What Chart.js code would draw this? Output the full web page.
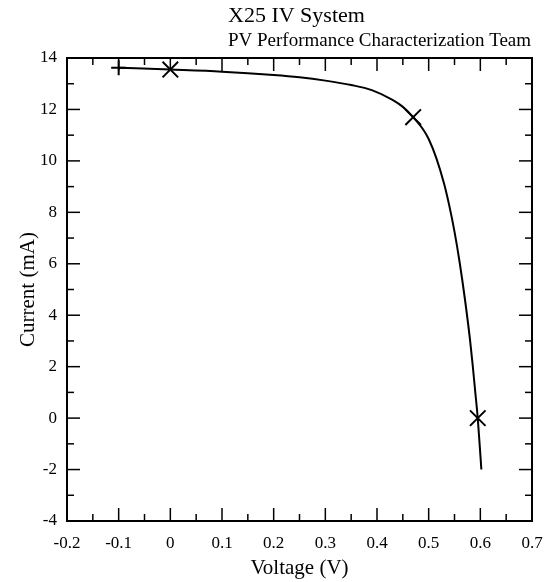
<!DOCTYPE html>
<html>
<head>
<meta charset="utf-8">
<script src="https://cdn.jsdelivr.net/npm/chart.js@4.4.0/dist/chart.umd.min.js"></script>
<style>
  html, body { margin: 0; padding: 0; background: #fff; }
  #wrap { position: relative; width: 546px; height: 582px; }
</style>
</head>
<body>
<div id="wrap"><canvas id="c" width="546" height="582"></canvas></div>
<script>
// ---- data ----
const voltage = [-0.1, 0, 0.1, 0.2, 0.25, 0.3, 0.35, 0.39, 0.43, 0.45, 0.47, 0.49, 0.5, 0.515, 0.53, 0.54, 0.55, 0.56, 0.57, 0.58, 0.585, 0.59, 0.595, 0.602];
const current = [13.62, 13.55, 13.47, 13.34, 13.25, 13.12, 12.95, 12.75, 12.37, 12.1, 11.7, 11.2, 10.85, 10.1, 9.1, 8.25, 7.25, 6.05, 4.65, 3.05, 2.1, 1.05, 0, -2.0];
const markerV = [0, 0.47, 0.595];
const markerI = [13.55, 11.7, 0];
const startV = [-0.1];
const startI = [13.62];
const xTickLabels = ['-0.2', '-0.1', '0', '0.1', '0.2', '0.3', '0.4', '0.5', '0.6', '0.7'];
const yTickLabels = ['-4', '-2', '0', '2', '4', '6', '8', '10', '12', '14'];
const titleText = 'X25 IV System';
const subtitleText = 'PV Performance Characterization Team';
const xTitle = 'Voltage (V)';
const yTitle = 'Current (mA)';

const serif = "'Liberation Serif', 'DejaVu Serif', serif";

const toPts = (xs, ys) => xs.map((v, i) => ({ x: v, y: ys[i] }));

const frameTicks = {
  id: 'frameTicks',
  afterDatasetsDraw(chart) {
    const { ctx, chartArea: a, scales: { x, y } } = chart;
    ctx.save();
    ctx.strokeStyle = '#000';
    ctx.lineWidth = 1.5;
    const major = 13, minor = 7;
    const xt = x.ticks.map(t => t.value);
    const yt = y.ticks.map(t => t.value);
    const line = (x1, y1, x2, y2) => { ctx.beginPath(); ctx.moveTo(x1, y1); ctx.lineTo(x2, y2); ctx.stroke(); };
    xt.forEach((v, i) => {
      const px = x.getPixelForValue(v);
      if (i > 0 && i < xt.length - 1) {
        line(px, a.bottom, px, a.bottom - major);
        line(px, a.top, px, a.top + major);
      }
      if (i < xt.length - 1) {
        const mx = x.getPixelForValue((v + xt[i + 1]) / 2);
        line(mx, a.bottom, mx, a.bottom - minor);
        line(mx, a.top, mx, a.top + minor);
      }
    });
    yt.forEach((v, i) => {
      const py = y.getPixelForValue(v);
      if (i > 0 && i < yt.length - 1) {
        line(a.left, py, a.left + major, py);
        line(a.right, py, a.right - major, py);
      }
      if (i < yt.length - 1) {
        const my = y.getPixelForValue((v + yt[i + 1]) / 2);
        line(a.left, my, a.left + minor, my);
        line(a.right, my, a.right - minor, my);
      }
    });
    ctx.lineWidth = 2;
    ctx.strokeRect(a.left, a.top, a.right - a.left, a.bottom - a.top);
    // titles
    ctx.fillStyle = '#000';
    ctx.textBaseline = 'alphabetic';
    ctx.textAlign = 'left';
    ctx.font = '22px ' + serif;
    ctx.fillText(titleText, 228, 22);
    ctx.font = '19px ' + serif;
    ctx.fillText(subtitleText, 228, 46);
    ctx.restore();
  }
};

new Chart(document.getElementById('c'), {
  type: 'scatter',
  data: {
    datasets: [
      {
        type: 'line',
        data: toPts(voltage, current),
        borderColor: '#000',
        borderWidth: 2,
        pointRadius: 0,
        cubicInterpolationMode: 'monotone',
        fill: false
      },
      {
        data: toPts(markerV, markerI),
        pointStyle: 'crossRot',
        pointRadius: 11,
        borderColor: '#000',
        backgroundColor: '#000',
        borderWidth: 2
      },
      {
        data: toPts(startV, startI),
        pointStyle: 'cross',
        pointRadius: 7.5,
        borderColor: '#000',
        backgroundColor: '#000',
        borderWidth: 2
      }
    ]
  },
  options: {
    responsive: false,
    animation: false,
    devicePixelRatio: 1,
    layout: { padding: { top: 58, right: 14, left: 0, bottom: 0 } },
    plugins: { legend: { display: false }, tooltip: { enabled: false }, title: { display: false } },
    scales: {
      x: {
        type: 'linear',
        min: -0.2, max: 0.7,
        afterBuildTicks: s => { s.ticks = xTickLabels.map(t => ({ value: parseFloat(t) })); },
        afterFit: s => { s.height = 61; s.paddingLeft = 0; s.paddingRight = 0; },
        grid: { display: false, drawTicks: false },
        border: { display: false },
        ticks: {
          color: '#000', padding: 12,
          font: { family: serif, size: 17 },
          callback: (v, i) => xTickLabels[i]
        },
        title: { display: true, text: xTitle, color: '#000', font: { family: serif, size: 21 }, padding: { top: 0, bottom: 1 } }
      },
      y: {
        type: 'linear',
        min: -4, max: 14,
        afterBuildTicks: s => { s.ticks = yTickLabels.map(t => ({ value: parseFloat(t) })); },
        afterFit: s => { s.width = 67; s.paddingTop = 0; s.paddingBottom = 0; },
        grid: { display: false, drawTicks: false },
        border: { display: false },
        ticks: {
          color: '#000', padding: 10,
          font: { family: serif, size: 17 },
          callback: (v, i) => yTickLabels[i]
        },
        title: { display: true, text: yTitle, color: '#000', font: { family: serif, size: 21 }, padding: { top: 16, bottom: 0 } }
      }
    }
  },
  plugins: [frameTicks]
});
</script>
</body>
</html>
